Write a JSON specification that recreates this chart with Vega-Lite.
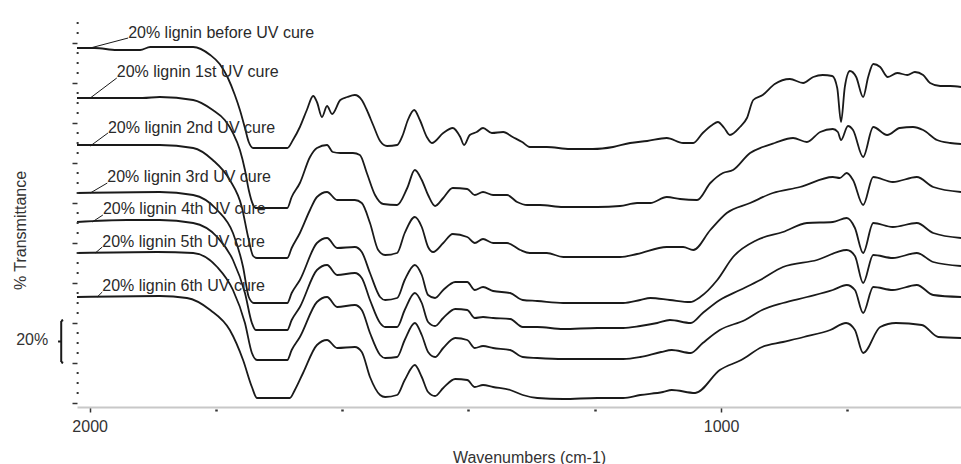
{
"$schema": "https://vega.github.io/schema/vega-lite/v6.json",
"width": 884, "height": 393,
"autosize": {"type": "none"},
"padding": {"left": 77, "top": 14, "right": 0, "bottom": 57},
"background": "white",
"config": {"view": {"stroke": null}, "font": "Liberation Sans"},
"datasets": {
"spectra": [
{"curve":"c1","wn":2020,"pct":177.5},{"curve":"c1","wn":1992,"pct":177.5},{"curve":"c1","wn":1957,"pct":176.5},{"curve":"c1","wn":1920,"pct":176.5},{"curve":"c1","wn":1904,"pct":178},{"curve":"c1","wn":1868,"pct":178},{"curve":"c1","wn":1836,"pct":178},{"curve":"c1","wn":1809,"pct":174},{"curve":"c1","wn":1794,"pct":169.5},{"curve":"c1","wn":1781,"pct":162.5},{"curve":"c1","wn":1770,"pct":154},{"curve":"c1","wn":1762,"pct":146.5},{"curve":"c1","wn":1754,"pct":137.5},{"curve":"c1","wn":1748,"pct":130.5},{"curve":"c1","wn":1741,"pct":127.5},{"curve":"c1","wn":1687,"pct":127.5},{"curve":"c1","wn":1678,"pct":131.5},{"curve":"c1","wn":1667,"pct":138},{"curve":"c1","wn":1656,"pct":146.5},{"curve":"c1","wn":1646,"pct":153.5},{"curve":"c1","wn":1640,"pct":150.5},{"curve":"c1","wn":1632,"pct":143},{"curve":"c1","wn":1624,"pct":148.5},{"curve":"c1","wn":1616,"pct":144.5},{"curve":"c1","wn":1603,"pct":151.5},{"curve":"c1","wn":1592,"pct":153},{"curve":"c1","wn":1580,"pct":154},{"curve":"c1","wn":1569,"pct":151.5},{"curve":"c1","wn":1561,"pct":146.5},{"curve":"c1","wn":1551,"pct":139},{"curve":"c1","wn":1540,"pct":131},{"curve":"c1","wn":1529,"pct":128.5},{"curve":"c1","wn":1513,"pct":129},{"curve":"c1","wn":1504,"pct":134},{"curve":"c1","wn":1496,"pct":141.5},{"curve":"c1","wn":1486,"pct":146.5},{"curve":"c1","wn":1477,"pct":141.5},{"curve":"c1","wn":1466,"pct":133},{"curve":"c1","wn":1458,"pct":130},{"curve":"c1","wn":1440,"pct":135},{"curve":"c1","wn":1425,"pct":137.5},{"curve":"c1","wn":1413,"pct":133},{"curve":"c1","wn":1407,"pct":129},{"curve":"c1","wn":1398,"pct":134},{"curve":"c1","wn":1387,"pct":135.5},{"curve":"c1","wn":1377,"pct":137.5},{"curve":"c1","wn":1363,"pct":135},{"curve":"c1","wn":1345,"pct":135.5},{"curve":"c1","wn":1330,"pct":133},{"curve":"c1","wn":1315,"pct":130.5},{"curve":"c1","wn":1303,"pct":128},{"curve":"c1","wn":1276,"pct":128},{"curve":"c1","wn":1239,"pct":127},{"curve":"c1","wn":1203,"pct":127},{"curve":"c1","wn":1171,"pct":128},{"curve":"c1","wn":1144,"pct":130},{"curve":"c1","wn":1117,"pct":131},{"curve":"c1","wn":1086,"pct":132.5},{"curve":"c1","wn":1060,"pct":130},{"curve":"c1","wn":1044,"pct":130},{"curve":"c1","wn":1029,"pct":135},{"curve":"c1","wn":1014,"pct":139},{"curve":"c1","wn":1005,"pct":140.5},{"curve":"c1","wn":995,"pct":137.5},{"curve":"c1","wn":986,"pct":134},{"curve":"c1","wn":970,"pct":138},{"curve":"c1","wn":959,"pct":142.5},{"curve":"c1","wn":949,"pct":151.5},{"curve":"c1","wn":934,"pct":154},{"curve":"c1","wn":915,"pct":159.5},{"curve":"c1","wn":891,"pct":162},{"curve":"c1","wn":870,"pct":160},{"curve":"c1","wn":854,"pct":163},{"curve":"c1","wn":839,"pct":164},{"curve":"c1","wn":824,"pct":163.5},{"curve":"c1","wn":816,"pct":157.5},{"curve":"c1","wn":810,"pct":140.5},{"curve":"c1","wn":804,"pct":158},{"curve":"c1","wn":796,"pct":166},{"curve":"c1","wn":786,"pct":163},{"curve":"c1","wn":775,"pct":153},{"curve":"c1","wn":767,"pct":163},{"curve":"c1","wn":759,"pct":169.5},{"curve":"c1","wn":748,"pct":168},{"curve":"c1","wn":736,"pct":163},{"curve":"c1","wn":721,"pct":165},{"curve":"c1","wn":705,"pct":164},{"curve":"c1","wn":693,"pct":165.5},{"curve":"c1","wn":680,"pct":164},{"curve":"c1","wn":669,"pct":160},{"curve":"c1","wn":653,"pct":158.5},{"curve":"c1","wn":637,"pct":158.5},{"curve":"c1","wn":620,"pct":158},

{"curve":"c2","wn":2020,"pct":152.5},{"curve":"c2","wn":1916,"pct":152.5},{"curve":"c2","wn":1889,"pct":153},{"curve":"c2","wn":1836,"pct":151.5},{"curve":"c2","wn":1805,"pct":146.5},{"curve":"c2","wn":1786,"pct":141.5},{"curve":"c2","wn":1773,"pct":135},{"curve":"c2","wn":1762,"pct":126.5},{"curve":"c2","wn":1754,"pct":116.5},{"curve":"c2","wn":1748,"pct":106.5},{"curve":"c2","wn":1741,"pct":99},{"curve":"c2","wn":1737,"pct":97.5},{"curve":"c2","wn":1687,"pct":97.5},{"curve":"c2","wn":1680,"pct":103},{"curve":"c2","wn":1667,"pct":110},{"curve":"c2","wn":1651,"pct":123},{"curve":"c2","wn":1640,"pct":127.5},{"curve":"c2","wn":1624,"pct":129},{"curve":"c2","wn":1615,"pct":125.5},{"curve":"c2","wn":1603,"pct":125},{"curve":"c2","wn":1583,"pct":125},{"curve":"c2","wn":1572,"pct":124},{"curve":"c2","wn":1561,"pct":115},{"curve":"c2","wn":1548,"pct":104},{"curve":"c2","wn":1535,"pct":99.5},{"curve":"c2","wn":1513,"pct":99},{"curve":"c2","wn":1497,"pct":107.5},{"curve":"c2","wn":1485,"pct":116.5},{"curve":"c2","wn":1474,"pct":111.5},{"curve":"c2","wn":1464,"pct":104},{"curve":"c2","wn":1453,"pct":98.5},{"curve":"c2","wn":1440,"pct":102.5},{"curve":"c2","wn":1425,"pct":107.5},{"curve":"c2","wn":1402,"pct":107},{"curve":"c2","wn":1390,"pct":104},{"curve":"c2","wn":1377,"pct":105.5},{"curve":"c2","wn":1361,"pct":104},{"curve":"c2","wn":1339,"pct":104},{"curve":"c2","wn":1323,"pct":100.5},{"curve":"c2","wn":1307,"pct":99},{"curve":"c2","wn":1287,"pct":99},{"curve":"c2","wn":1250,"pct":98},{"curve":"c2","wn":1196,"pct":98},{"curve":"c2","wn":1160,"pct":98.5},{"curve":"c2","wn":1133,"pct":100},{"curve":"c2","wn":1112,"pct":100},{"curve":"c2","wn":1086,"pct":103},{"curve":"c2","wn":1065,"pct":102},{"curve":"c2","wn":1038,"pct":101.5},{"curve":"c2","wn":1017,"pct":110},{"curve":"c2","wn":997,"pct":115},{"curve":"c2","wn":981,"pct":116.5},{"curve":"c2","wn":954,"pct":125},{"curve":"c2","wn":934,"pct":128},{"curve":"c2","wn":915,"pct":130},{"curve":"c2","wn":886,"pct":132.5},{"curve":"c2","wn":864,"pct":130.5},{"curve":"c2","wn":843,"pct":135.5},{"curve":"c2","wn":823,"pct":137},{"curve":"c2","wn":815,"pct":135.5},{"curve":"c2","wn":810,"pct":131.5},{"curve":"c2","wn":799,"pct":138.5},{"curve":"c2","wn":791,"pct":136.5},{"curve":"c2","wn":775,"pct":123},{"curve":"c2","wn":759,"pct":138},{"curve":"c2","wn":737,"pct":134},{"curve":"c2","wn":717,"pct":137.5},{"curve":"c2","wn":696,"pct":138},{"curve":"c2","wn":680,"pct":136.5},{"curve":"c2","wn":658,"pct":131.5},{"curve":"c2","wn":637,"pct":130},{"curve":"c2","wn":620,"pct":129.5},

{"curve":"c3","wn":2020,"pct":129},{"curve":"c3","wn":1889,"pct":129},{"curve":"c3","wn":1836,"pct":127.5},{"curve":"c3","wn":1805,"pct":121.5},{"curve":"c3","wn":1778,"pct":111.5},{"curve":"c3","wn":1759,"pct":98},{"curve":"c3","wn":1749,"pct":83},{"curve":"c3","wn":1741,"pct":73.5},{"curve":"c3","wn":1735,"pct":72.5},{"curve":"c3","wn":1687,"pct":72.5},{"curve":"c3","wn":1680,"pct":77.5},{"curve":"c3","wn":1667,"pct":85},{"curve":"c3","wn":1651,"pct":96.5},{"curve":"c3","wn":1640,"pct":103},{"curve":"c3","wn":1624,"pct":105.5},{"curve":"c3","wn":1608,"pct":101.5},{"curve":"c3","wn":1580,"pct":101.5},{"curve":"c3","wn":1569,"pct":100},{"curve":"c3","wn":1556,"pct":90},{"curve":"c3","wn":1543,"pct":76.5},{"curve":"c3","wn":1532,"pct":74},{"curve":"c3","wn":1513,"pct":75},{"curve":"c3","wn":1501,"pct":85},{"curve":"c3","wn":1485,"pct":93},{"curve":"c3","wn":1474,"pct":88},{"curve":"c3","wn":1464,"pct":78},{"curve":"c3","wn":1456,"pct":75.5},{"curve":"c3","wn":1440,"pct":80},{"curve":"c3","wn":1425,"pct":84.5},{"curve":"c3","wn":1402,"pct":83},{"curve":"c3","wn":1390,"pct":80},{"curve":"c3","wn":1377,"pct":82},{"curve":"c3","wn":1361,"pct":80},{"curve":"c3","wn":1339,"pct":80},{"curve":"c3","wn":1318,"pct":76.5},{"curve":"c3","wn":1303,"pct":75},{"curve":"c3","wn":1276,"pct":75},{"curve":"c3","wn":1250,"pct":73},{"curve":"c3","wn":1196,"pct":73},{"curve":"c3","wn":1160,"pct":73},{"curve":"c3","wn":1133,"pct":74.5},{"curve":"c3","wn":1086,"pct":78},{"curve":"c3","wn":1060,"pct":78},{"curve":"c3","wn":1044,"pct":76.5},{"curve":"c3","wn":1017,"pct":86.5},{"curve":"c3","wn":991,"pct":95},{"curve":"c3","wn":954,"pct":100},{"curve":"c3","wn":918,"pct":105},{"curve":"c3","wn":875,"pct":108},{"curve":"c3","wn":823,"pct":113},{"curve":"c3","wn":812,"pct":112.5},{"curve":"c3","wn":801,"pct":115},{"curve":"c3","wn":791,"pct":111.5},{"curve":"c3","wn":775,"pct":99},{"curve":"c3","wn":759,"pct":113},{"curve":"c3","wn":728,"pct":110.5},{"curve":"c3","wn":690,"pct":113},{"curve":"c3","wn":664,"pct":108},{"curve":"c3","wn":620,"pct":105.5},

{"curve":"c4","wn":2020,"pct":105},{"curve":"c4","wn":1889,"pct":105.5},{"curve":"c4","wn":1836,"pct":104},{"curve":"c4","wn":1798,"pct":96.5},{"curve":"c4","wn":1773,"pct":85},{"curve":"c4","wn":1757,"pct":68},{"curve":"c4","wn":1748,"pct":53},{"curve":"c4","wn":1740,"pct":50},{"curve":"c4","wn":1687,"pct":50},{"curve":"c4","wn":1680,"pct":55},{"curve":"c4","wn":1667,"pct":61.5},{"curve":"c4","wn":1640,"pct":80},{"curve":"c4","wn":1624,"pct":82.5},{"curve":"c4","wn":1608,"pct":77.5},{"curve":"c4","wn":1580,"pct":78},{"curve":"c4","wn":1569,"pct":75.5},{"curve":"c4","wn":1556,"pct":65},{"curve":"c4","wn":1540,"pct":53},{"curve":"c4","wn":1532,"pct":51.5},{"curve":"c4","wn":1513,"pct":52.5},{"curve":"c4","wn":1501,"pct":61.5},{"curve":"c4","wn":1485,"pct":69},{"curve":"c4","wn":1474,"pct":64},{"curve":"c4","wn":1464,"pct":54},{"curve":"c4","wn":1453,"pct":52.5},{"curve":"c4","wn":1440,"pct":56.5},{"curve":"c4","wn":1421,"pct":60.5},{"curve":"c4","wn":1402,"pct":60.5},{"curve":"c4","wn":1390,"pct":56.5},{"curve":"c4","wn":1377,"pct":58},{"curve":"c4","wn":1361,"pct":56},{"curve":"c4","wn":1334,"pct":55},{"curve":"c4","wn":1314,"pct":51.5},{"curve":"c4","wn":1291,"pct":51},{"curve":"c4","wn":1250,"pct":50},{"curve":"c4","wn":1196,"pct":50},{"curve":"c4","wn":1155,"pct":50},{"curve":"c4","wn":1128,"pct":51.5},{"curve":"c4","wn":1112,"pct":52.5},{"curve":"c4","wn":1081,"pct":51.5},{"curve":"c4","wn":1049,"pct":50.5},{"curve":"c4","wn":1033,"pct":53},{"curve":"c4","wn":1006,"pct":61.5},{"curve":"c4","wn":981,"pct":73},{"curve":"c4","wn":943,"pct":81.5},{"curve":"c4","wn":902,"pct":85.5},{"curve":"c4","wn":864,"pct":90},{"curve":"c4","wn":823,"pct":90.5},{"curve":"c4","wn":801,"pct":92.5},{"curve":"c4","wn":788,"pct":87.5},{"curve":"c4","wn":775,"pct":75},{"curve":"c4","wn":759,"pct":90},{"curve":"c4","wn":728,"pct":88},{"curve":"c4","wn":690,"pct":90},{"curve":"c4","wn":664,"pct":85},{"curve":"c4","wn":620,"pct":82.5},

{"curve":"c5","wn":2020,"pct":90.5},{"curve":"c5","wn":1941,"pct":91.5},{"curve":"c5","wn":1889,"pct":91.5},{"curve":"c5","wn":1836,"pct":90},{"curve":"c5","wn":1798,"pct":83},{"curve":"c5","wn":1773,"pct":71.5},{"curve":"c5","wn":1754,"pct":55},{"curve":"c5","wn":1743,"pct":40},{"curve":"c5","wn":1737,"pct":36.5},{"curve":"c5","wn":1687,"pct":36.5},{"curve":"c5","wn":1680,"pct":41.5},{"curve":"c5","wn":1667,"pct":48},{"curve":"c5","wn":1640,"pct":66.5},{"curve":"c5","wn":1624,"pct":69},{"curve":"c5","wn":1608,"pct":64},{"curve":"c5","wn":1580,"pct":65},{"curve":"c5","wn":1569,"pct":62.5},{"curve":"c5","wn":1556,"pct":51.5},{"curve":"c5","wn":1540,"pct":40},{"curve":"c5","wn":1532,"pct":38},{"curve":"c5","wn":1513,"pct":38},{"curve":"c5","wn":1501,"pct":46.5},{"curve":"c5","wn":1485,"pct":55},{"curve":"c5","wn":1474,"pct":50},{"curve":"c5","wn":1464,"pct":40.5},{"curve":"c5","wn":1453,"pct":38.5},{"curve":"c5","wn":1440,"pct":42.5},{"curve":"c5","wn":1421,"pct":47},{"curve":"c5","wn":1402,"pct":46.5},{"curve":"c5","wn":1390,"pct":42.5},{"curve":"c5","wn":1377,"pct":43},{"curve":"c5","wn":1361,"pct":42.5},{"curve":"c5","wn":1334,"pct":42},{"curve":"c5","wn":1314,"pct":38},{"curve":"c5","wn":1291,"pct":38},{"curve":"c5","wn":1250,"pct":37},{"curve":"c5","wn":1196,"pct":37.5},{"curve":"c5","wn":1155,"pct":37.5},{"curve":"c5","wn":1128,"pct":38.5},{"curve":"c5","wn":1101,"pct":40},{"curve":"c5","wn":1081,"pct":41.5},{"curve":"c5","wn":1048,"pct":40},{"curve":"c5","wn":1029,"pct":45},{"curve":"c5","wn":1002,"pct":51.5},{"curve":"c5","wn":970,"pct":56.5},{"curve":"c5","wn":938,"pct":61.5},{"curve":"c5","wn":902,"pct":68},{"curve":"c5","wn":848,"pct":71.5},{"curve":"c5","wn":801,"pct":76.5},{"curve":"c5","wn":788,"pct":73.5},{"curve":"c5","wn":775,"pct":60},{"curve":"c5","wn":759,"pct":74},{"curve":"c5","wn":728,"pct":72.5},{"curve":"c5","wn":690,"pct":75},{"curve":"c5","wn":664,"pct":70.5},{"curve":"c5","wn":620,"pct":68.5},

{"curve":"c6","wn":2020,"pct":75},{"curve":"c6","wn":1893,"pct":75.5},{"curve":"c6","wn":1836,"pct":75},{"curve":"c6","wn":1798,"pct":68},{"curve":"c6","wn":1773,"pct":56.5},{"curve":"c6","wn":1754,"pct":40},{"curve":"c6","wn":1743,"pct":25},{"curve":"c6","wn":1735,"pct":21.5},{"curve":"c6","wn":1687,"pct":21.5},{"curve":"c6","wn":1680,"pct":26.5},{"curve":"c6","wn":1667,"pct":33},{"curve":"c6","wn":1640,"pct":50.5},{"curve":"c6","wn":1624,"pct":53},{"curve":"c6","wn":1608,"pct":48},{"curve":"c6","wn":1580,"pct":49},{"curve":"c6","wn":1569,"pct":46.5},{"curve":"c6","wn":1556,"pct":35},{"curve":"c6","wn":1540,"pct":24},{"curve":"c6","wn":1532,"pct":22.5},{"curve":"c6","wn":1513,"pct":23},{"curve":"c6","wn":1501,"pct":31.5},{"curve":"c6","wn":1485,"pct":40},{"curve":"c6","wn":1474,"pct":34},{"curve":"c6","wn":1464,"pct":25.5},{"curve":"c6","wn":1453,"pct":23},{"curve":"c6","wn":1440,"pct":27.5},{"curve":"c6","wn":1421,"pct":32.5},{"curve":"c6","wn":1402,"pct":31.5},{"curve":"c6","wn":1390,"pct":27.5},{"curve":"c6","wn":1377,"pct":28.5},{"curve":"c6","wn":1361,"pct":27.5},{"curve":"c6","wn":1334,"pct":26.5},{"curve":"c6","wn":1314,"pct":23},{"curve":"c6","wn":1291,"pct":22.5},{"curve":"c6","wn":1250,"pct":22},{"curve":"c6","wn":1196,"pct":22},{"curve":"c6","wn":1155,"pct":22},{"curve":"c6","wn":1128,"pct":23},{"curve":"c6","wn":1095,"pct":25.5},{"curve":"c6","wn":1078,"pct":26.5},{"curve":"c6","wn":1048,"pct":25},{"curve":"c6","wn":1029,"pct":30},{"curve":"c6","wn":1002,"pct":36.5},{"curve":"c6","wn":962,"pct":41.5},{"curve":"c6","wn":935,"pct":46.5},{"curve":"c6","wn":902,"pct":50},{"curve":"c6","wn":864,"pct":53},{"curve":"c6","wn":823,"pct":56.5},{"curve":"c6","wn":801,"pct":59},{"curve":"c6","wn":788,"pct":56.5},{"curve":"c6","wn":775,"pct":45},{"curve":"c6","wn":759,"pct":58},{"curve":"c6","wn":728,"pct":56.5},{"curve":"c6","wn":690,"pct":59},{"curve":"c6","wn":664,"pct":54},{"curve":"c6","wn":620,"pct":53},

{"curve":"c7","wn":2020,"pct":53},{"curve":"c7","wn":1889,"pct":53.5},{"curve":"c7","wn":1846,"pct":52.5},{"curve":"c7","wn":1809,"pct":46.5},{"curve":"c7","wn":1778,"pct":36.5},{"curve":"c7","wn":1757,"pct":21.5},{"curve":"c7","wn":1743,"pct":8},{"curve":"c7","wn":1735,"pct":2.5},{"curve":"c7","wn":1683,"pct":2.5},{"curve":"c7","wn":1675,"pct":6.5},{"curve":"c7","wn":1662,"pct":15},{"curve":"c7","wn":1640,"pct":29},{"curve":"c7","wn":1624,"pct":31.5},{"curve":"c7","wn":1608,"pct":27.5},{"curve":"c7","wn":1580,"pct":28},{"curve":"c7","wn":1569,"pct":25.5},{"curve":"c7","wn":1556,"pct":13},{"curve":"c7","wn":1540,"pct":4},{"curve":"c7","wn":1532,"pct":3},{"curve":"c7","wn":1513,"pct":4},{"curve":"c7","wn":1501,"pct":11.5},{"curve":"c7","wn":1485,"pct":19},{"curve":"c7","wn":1474,"pct":13},{"curve":"c7","wn":1464,"pct":5.5},{"curve":"c7","wn":1453,"pct":3.5},{"curve":"c7","wn":1440,"pct":7.5},{"curve":"c7","wn":1421,"pct":12},{"curve":"c7","wn":1402,"pct":11.5},{"curve":"c7","wn":1390,"pct":8},{"curve":"c7","wn":1377,"pct":9},{"curve":"c7","wn":1361,"pct":8},{"curve":"c7","wn":1334,"pct":6.5},{"curve":"c7","wn":1314,"pct":4},{"curve":"c7","wn":1291,"pct":2.5},{"curve":"c7","wn":1250,"pct":2},{"curve":"c7","wn":1196,"pct":2.5},{"curve":"c7","wn":1155,"pct":2.5},{"curve":"c7","wn":1128,"pct":4},{"curve":"c7","wn":1092,"pct":5.5},{"curve":"c7","wn":1078,"pct":6.5},{"curve":"c7","wn":1041,"pct":5},{"curve":"c7","wn":1002,"pct":16.5},{"curve":"c7","wn":968,"pct":21.5},{"curve":"c7","wn":935,"pct":28},{"curve":"c7","wn":902,"pct":30.5},{"curve":"c7","wn":869,"pct":33},{"curve":"c7","wn":827,"pct":36.5},{"curve":"c7","wn":802,"pct":40},{"curve":"c7","wn":788,"pct":36.5},{"curve":"c7","wn":775,"pct":25},{"curve":"c7","wn":748,"pct":38},{"curve":"c7","wn":723,"pct":40},{"curve":"c7","wn":682,"pct":39},{"curve":"c7","wn":656,"pct":33},{"curve":"c7","wn":620,"pct":32.5}
],
"labels": [
{"label":"20% lignin before UV cure","wn":1939,"pct":185,"wn0":1999,"pct0":177.5,"wn1":1939,"pct1":182.5},
{"label":"20% lignin 1st UV cure","wn":1957,"pct":165.5,"wn0":1999,"pct0":152.5,"wn1":1957,"pct1":162.5},
{"label":"20% lignin 2nd UV cure","wn":1971,"pct":137.5,"wn0":1999,"pct0":128.5,"wn1":1971,"pct1":135},
{"label":"20% lignin 3rd UV cure","wn":1972,"pct":113,"wn0":1999,"pct0":105,"wn1":1972,"pct1":110},
{"label":"20% lignin 4th UV cure","wn":1979,"pct":97,"wn0":1996,"pct0":90.5,"wn1":1979,"pct1":94},
{"label":"20% lignin 5th UV cure","wn":1980,"pct":80.5,"wn0":1991,"pct0":75,"wn1":1980,"pct1":78},
{"label":"20% lignin 6th UV cure","wn":1980,"pct":58.5,"wn0":1988,"pct0":53,"wn1":1980,"pct1":55.5}
],
"bracket": [
{"wn":2045,"pct":41,"wn2":2045,"pct2":20.5},
{"wn":2050,"pct":30.75,"wn2":2045,"pct2":30.75},
{"wn":2045,"pct":41,"wn2":2042,"pct2":41.5},
{"wn":2045,"pct":20.5,"wn2":2042,"pct2":20}
],
"scalebar": [{"text":"20%","wn":2091,"pct":31.5}],
"minorticks": [
{"wn":2019,"pct":5},{"wn":2019,"pct":10},{"wn":2019,"pct":15},
{"wn":2019,"pct":25},{"wn":2019,"pct":30},{"wn":2019,"pct":35},
{"wn":2019,"pct":45},{"wn":2019,"pct":50},{"wn":2019,"pct":55},
{"wn":2019,"pct":65},{"wn":2019,"pct":70},{"wn":2019,"pct":75},
{"wn":2019,"pct":85},{"wn":2019,"pct":90},{"wn":2019,"pct":95},
{"wn":2019,"pct":105},{"wn":2019,"pct":110},{"wn":2019,"pct":115},
{"wn":2019,"pct":125},{"wn":2019,"pct":130},{"wn":2019,"pct":135},
{"wn":2019,"pct":145},{"wn":2019,"pct":150},{"wn":2019,"pct":155},
{"wn":2019,"pct":165},{"wn":2019,"pct":170},{"wn":2019,"pct":175},
{"wn":2019,"pct":185},{"wn":2019,"pct":190}
]
},
"layer": [
{
"data": {"name": "spectra"},
"mark": {"type": "line", "color": "#1a1a1a", "strokeWidth": 1.8, "interpolate": "monotone"},
"encoding": {
"x": {"field": "wn", "type": "quantitative",
"scale": {"domain": [620, 2020], "reverse": true, "nice": false, "zero": false},
"axis": {"values": [2000, 1800, 1600, 1400, 1200, 1000, 800],
"labelExpr": "datum.value == 2000 || datum.value == 1000 ? '' + datum.value : ''",
"grid": false, "domainColor": "#c8c8c8", "domainWidth": 2,
"tickColor": "#333333", "tickSize": 5,
"tickWidth": {"condition": {"test": "datum.value == 2000 || datum.value == 1000", "value": 1.5}, "value": 2.5},
"tickDash": {"condition": {"test": "datum.value == 2000 || datum.value == 1000", "value": []}, "value": [0, 2, 2, 20]},
"labelFont": "Liberation Sans", "labelFontSize": 16, "labelColor": "#333333", "labelPadding": 6, "labelFlush": false,
"title": "Wavenumbers (cm-1)", "titleFont": "Liberation Sans", "titleFontSize": 16, "titleFontWeight": "normal", "titleColor": "#333333",
"titleX": 452, "titleY": 50, "titleAlign": "center", "titleBaseline": "middle", "titleAnchor": null}},
"y": {"field": "pct", "type": "quantitative",
"scale": {"domain": [-2, 194.5], "nice": false, "zero": false},
"axis": {"values": [0,20,40,60,80,100,120,140,160,180],
"labels": false, "domain": false, "grid": false,
"tickColor": "#333333", "tickSize": 5, "tickWidth": 1.5,
"title": "% Transmittance", "titleFont": "Liberation Sans", "titleFontSize": 16, "titleFontWeight": "normal", "titleColor": "#333333",
"titleX": -57, "titleY": 216, "titleAngle": 270, "titleAlign": "center", "titleBaseline": "middle", "titleAnchor": null}},
"detail": {"field": "curve", "type": "nominal"}
}
},
{
"data": {"name": "minorticks"},
"mark": {"type": "square", "color": "#333333", "size": 4, "opacity": 1},
"encoding": {
"x": {"field": "wn", "type": "quantitative"},
"y": {"field": "pct", "type": "quantitative"}
}
},
{
"data": {"name": "labels"},
"mark": {"type": "rule", "color": "#1a1a1a", "strokeWidth": 1},
"encoding": {
"x": {"field": "wn0", "type": "quantitative"},
"y": {"field": "pct0", "type": "quantitative"},
"x2": {"field": "wn1"},
"y2": {"field": "pct1"}
}
},
{
"data": {"name": "labels"},
"mark": {"type": "text", "align": "left", "baseline": "middle", "font": "Liberation Sans", "fontSize": 16, "color": "#2a2a2a"},
"encoding": {
"x": {"field": "wn", "type": "quantitative"},
"y": {"field": "pct", "type": "quantitative"},
"text": {"field": "label"}
}
},
{
"data": {"name": "bracket"},
"mark": {"type": "rule", "color": "#1a1a1a", "strokeWidth": 2},
"encoding": {
"x": {"field": "wn", "type": "quantitative"},
"y": {"field": "pct", "type": "quantitative"},
"x2": {"field": "wn2"},
"y2": {"field": "pct2"}
}
},
{
"data": {"name": "scalebar"},
"mark": {"type": "text", "align": "center", "baseline": "middle", "font": "Liberation Sans", "fontSize": 16, "color": "#333333"},
"encoding": {
"x": {"field": "wn", "type": "quantitative"},
"y": {"field": "pct", "type": "quantitative"},
"text": {"field": "text"}
}
}
]
}
